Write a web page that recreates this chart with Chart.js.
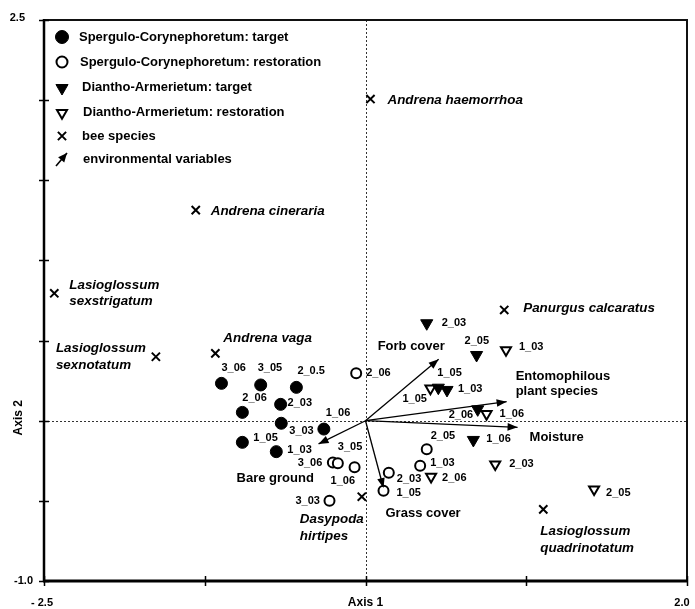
<!DOCTYPE html>
<html>
<head>
<meta charset="utf-8">
<script src="https://cdn.jsdelivr.net/npm/chart.js@4/dist/chart.umd.min.js"></script>
<style>
  html, body { margin: 0; padding: 0; background: #fff; }
  #wrap { width: 695px; height: 609px; }
</style>
</head>
<body>
<div id="wrap"><canvas id="ord" width="695" height="609"></canvas></div>
<script>
// ---- Ordination scores (Axis 1, Axis 2) ----
// Spergulo-Corynephoretum: target sites
const sgTargetSites = ['3_06', '3_05', '2_0.5', '2_06', '2_03', '3_03', '1_06', '1_05', '1_03'];
const sgTargetAxis1 = [-0.896, -0.652, -0.430, -0.766, -0.528, -0.524, -0.259, -0.766, -0.555];
const sgTargetAxis2 = [0.233, 0.223, 0.208, 0.052, 0.102, -0.016, -0.052, -0.135, -0.193];

// Spergulo-Corynephoretum: restoration sites
const sgRestSites = ['2_06', '3_06', '3_05', '1_06', '3_03', '2_05', '1_03', '2_03', '1_05'];
const sgRestAxis1 = [-0.058, -0.203, -0.172, -0.068, -0.224, 0.381, 0.340, 0.145, 0.112];
const sgRestAxis2 = [0.296, -0.260, -0.266, -0.291, -0.499, -0.178, -0.281, -0.324, -0.437];

// Diantho-Armerietum: target sites
const daTargetSites = ['2_03', '2_05', '1_05', '1_03', '2_06', '1_06'];
const daTargetAxis1 = [0.381, 0.691, 0.453, 0.507, 0.698, 0.671];
const daTargetAxis2 = [0.608, 0.410, 0.206, 0.192, 0.071, -0.120];

// Diantho-Armerietum: restoration sites
const daRestSites = ['1_03', '1_05', '1_06', '2_03', '2_06', '2_05'];
const daRestAxis1 = [0.874, 0.404, 0.753, 0.807, 0.408, 1.422];
const daRestAxis2 = [0.441, 0.202, 0.042, -0.272, -0.349, -0.428];

// Bee species
const beeNames = [
  ['Andrena haemorrhoa'], ['Andrena cineraria'], ['Lasioglossum', 'sexstrigatum'],
  ['Lasioglossum', 'sexnotatum'], ['Andrena vaga'], ['Panurgus calcaratus'],
  ['Dasypoda', 'hirtipes'], ['Lasioglossum', 'quadrinotatum']
];
const beeAxis1 = [0.031, -1.056, -1.936, -1.304, -0.934, 0.863, -0.023, 1.106];
const beeAxis2 = [2.007, 1.314, 0.795, 0.399, 0.420, 0.691, -0.474, -0.553];

// Environmental variables (arrow tips)
const envNames = [['Forb cover'], ['Entomophilous', 'plant species'], ['Moisture'], ['Grass cover'], ['Bare ground']];
const envAxis1 = [0.455, 0.878, 0.946, 0.112, -0.292];
const envAxis2 = [0.383, 0.119, -0.041, -0.420, -0.145];

// Axis ticks and their printed labels
const xTickValues = [-2, -1, 0, 1, 2];
const yTickValues = [-1.0, -0.5, 0, 0.5, 1.0, 1.5, 2.0, 2.5];
const xEndLabels = ['- 2.5', '2.0'];
const yEndLabels = ['2.5', '-1.0'];
const xAxisTitle = 'Axis 1';
const yAxisTitle = 'Axis 2';

// Legend entries
const legendTexts = [
  'Spergulo-Corynephoretum: target',
  'Spergulo-Corynephoretum: restoration',
  'Diantho-Armerietum: target',
  'Diantho-Armerietum: restoration',
  'bee species',
  'environmental variables'
];

// ---- Label placement (pixel offsets from the marker, left edge / middle) ----
const sgTargetLabelPos = [[0, -15], [-3, -17], [1, -16], [0, -14], [7, -1], [8, 8], [2, -16], [11, -4], [11, -2]];
const sgRestLabelPos = [[10, 0], [-35, 1], [0, -16], [-24, 14], [-34, 0], [4, -13], [10, -3], [8, 6], [13, 2]];
const daTargetLabelPos = [[15, 0], [-12, -14], [-1, -15], [11, -1], [-29, 6], [13, -1]];
const daRestLabelPos = [[13, -3], [-28, 11], [13, 0], [14, 0], [11, 1], [12, 4]];
const beeLabelPos = [[17, 1], [15, 1], [15, -8], [-100, -8], [8, -15], [19, -2], [-62, 23], [-3, 22]];
const envLabelPos = [[-61, -13], [9, -25], [12, 10], [2, 25], [-82, 34]];

const FONT = '"Liberation Sans", Arial, Helvetica, sans-serif';
const INK = '#000';

function pts(xs, ys) { return xs.map((x, i) => ({ x: x, y: ys[i] })); }

const siteSets = [
  { label: legendTexts[0], data: pts(sgTargetAxis1, sgTargetAxis2), names: sgTargetSites, pos: sgTargetLabelPos,
    pointStyle: 'circle', pointRadius: 6, pointBorderWidth: 1, pointRotation: 0,
    pointBackgroundColor: INK, pointBorderColor: INK },
  { label: legendTexts[1], data: pts(sgRestAxis1, sgRestAxis2), names: sgRestSites, pos: sgRestLabelPos,
    pointStyle: 'circle', pointRadius: 5, pointBorderWidth: 2, pointRotation: 0,
    pointBackgroundColor: '#fff', pointBorderColor: INK },
  { label: legendTexts[2], data: pts(daTargetAxis1, daTargetAxis2), names: daTargetSites, pos: daTargetLabelPos,
    pointStyle: 'triangle', pointRadius: 7, pointBorderWidth: 1, pointRotation: 180,
    pointBackgroundColor: INK, pointBorderColor: INK },
  { label: legendTexts[3], data: pts(daRestAxis1, daRestAxis2), names: daRestSites, pos: daRestLabelPos,
    pointStyle: 'triangle', pointRadius: 5.8, pointBorderWidth: 2, pointRotation: 180,
    pointBackgroundColor: '#fff', pointBorderColor: INK }
];

const beeSet = {
  label: legendTexts[4], data: pts(beeAxis1, beeAxis2), names: beeNames, pos: beeLabelPos, italic: true,
  pointStyle: 'crossRot', pointRadius: 5.8, pointBorderWidth: 2, pointRotation: 0,
  pointBackgroundColor: INK, pointBorderColor: INK
};

const envSets = envNames.map((n, i) => ({
  label: n.join(' '), env: true, names: [n], pos: [envLabelPos[i]],
  data: [{ x: 0, y: 0 }, { x: envAxis1[i], y: envAxis2[i] }],
  showLine: true, borderColor: INK, borderWidth: 1.3, pointRadius: 0, pointHoverRadius: 0
}));

const datasets = [...siteSets, beeSet, ...envSets];

function drawArrowHead(ctx, x0, y0, x1, y1, len, half) {
  const a = Math.atan2(y1 - y0, x1 - x0);
  const c = Math.cos(a), s = Math.sin(a);
  ctx.beginPath();
  ctx.moveTo(x1, y1);
  ctx.lineTo(x1 - len * c + half * s, y1 - len * s - half * c);
  ctx.lineTo(x1 - len * c - half * s, y1 - len * s + half * c);
  ctx.closePath();
  ctx.fill();
}

const frame = {
  id: 'frame',
  beforeDraw(chart) {
    const { ctx, canvas } = chart;
    ctx.save();
    ctx.fillStyle = '#fff';
    ctx.fillRect(0, 0, canvas.width, canvas.height);
    ctx.restore();
  },
  beforeDatasetsDraw(chart) {
    const { ctx, chartArea: a, scales: { x, y } } = chart;
    ctx.save();
    // zero lines
    ctx.strokeStyle = '#333';
    ctx.lineWidth = 1;
    ctx.setLineDash([2, 2]);
    const x0 = Math.round(x.getPixelForValue(0)) + 0.5;
    const y0 = Math.round(y.getPixelForValue(0)) + 0.5;
    ctx.beginPath();
    ctx.moveTo(x0, a.top); ctx.lineTo(x0, a.bottom);
    ctx.moveTo(a.left, y0); ctx.lineTo(a.right, y0);
    ctx.stroke();
    ctx.setLineDash([]);

    // frame: top and right
    ctx.strokeStyle = '#111';
    ctx.lineWidth = 2;
    ctx.beginPath();
    ctx.moveTo(a.left, a.top); ctx.lineTo(a.right, a.top); ctx.lineTo(a.right, a.bottom);
    ctx.stroke();
    // axes
    ctx.strokeStyle = INK;
    ctx.lineWidth = 2.5;
    ctx.beginPath();
    ctx.moveTo(a.left, a.top - 1); ctx.lineTo(a.left, a.bottom + 1);
    ctx.stroke();
    ctx.lineWidth = 3;
    ctx.beginPath();
    ctx.moveTo(a.left - 1, a.bottom); ctx.lineTo(a.right + 1, a.bottom);
    ctx.stroke();
    // crossing ticks
    ctx.lineWidth = 1.5;
    ctx.beginPath();
    yTickValues.forEach(v => {
      const py = Math.round(y.getPixelForValue(v)) + 0.5;
      ctx.moveTo(a.left - 5, py); ctx.lineTo(a.left + 5, py);
    });
    xTickValues.forEach(v => {
      const p = Math.round(x.getPixelForValue(v)) + 0.5;
      ctx.moveTo(p, a.bottom - 5); ctx.lineTo(p, a.bottom + 5);
    });
    ctx.stroke();

    // tick labels and axis titles
    ctx.fillStyle = INK;
    ctx.font = 'bold 11px ' + FONT;
    ctx.textBaseline = 'middle';
    ctx.textAlign = 'right';
    ctx.fillText(yEndLabels[0], a.left - 19, y.getPixelForValue(2.5) - 2);
    ctx.fillText(yEndLabels[1], a.left - 11, y.getPixelForValue(-1.0));
    ctx.textAlign = 'center';
    ctx.fillText(xEndLabels[0], x.getPixelForValue(-2) - 2, 603);
    ctx.fillText(xEndLabels[1], x.getPixelForValue(2) - 5, 603);
    ctx.font = 'bold 12px ' + FONT;
    ctx.fillText(xAxisTitle, x.getPixelForValue(0), 603);
    ctx.save();
    ctx.translate(19, y.getPixelForValue(0) - 3);
    ctx.rotate(-Math.PI / 2);
    ctx.fillText(yAxisTitle, 0, 0);
    ctx.restore();
    ctx.restore();
  },
  afterDatasetsDraw(chart) {
    const { ctx } = chart;
    ctx.save();
    ctx.fillStyle = INK;
    ctx.textAlign = 'left';
    ctx.textBaseline = 'middle';
    chart.data.datasets.forEach((ds, i) => {
      const meta = chart.getDatasetMeta(i);
      if (ds.env) {
        const p0 = meta.data[0], p1 = meta.data[1];
        drawArrowHead(ctx, p0.x, p0.y, p1.x, p1.y, 10, 3.8);
        ctx.font = 'bold 13px ' + FONT;
        ds.names[0].forEach((line, k) => {
          ctx.fillText(line, p1.x + ds.pos[0][0], p1.y + ds.pos[0][1] + k * 15);
        });
        return;
      }
      meta.data.forEach((el, j) => {
        const name = ds.names[j];
        const [dx, dy] = ds.pos[j];
        if (ds.italic) {
          ctx.font = 'italic bold 13.4px ' + FONT;
          name.forEach((line, k) => ctx.fillText(line, el.x + dx, el.y + dy + k * 16.5));
        } else {
          ctx.font = 'bold 11px ' + FONT;
          ctx.fillText(name, el.x + dx, el.y + dy);
        }
      });
    });

    // legend
    const rowsY = [37, 62, 87, 112, 136, 159];
    const textX = [79, 80, 82, 83, 82, 83];
    const markerX = 62;
    ctx.font = 'bold 13px ' + FONT;
    [...siteSets, beeSet].forEach((ds, k) => {
      ctx.save();
      ctx.fillStyle = ds.pointBackgroundColor;
      ctx.strokeStyle = ds.pointBorderColor;
      ctx.lineWidth = ds.pointBorderWidth;
      Chart.helpers.drawPoint(ctx, {
        pointStyle: ds.pointStyle, rotation: ds.pointRotation,
        radius: ds.pointRadius + (ds.pointStyle === 'circle' ? 0.5 : 0), borderWidth: ds.pointBorderWidth
      }, markerX, rowsY[k] + (ds.pointStyle === 'triangle' ? 1 : 0));
      ctx.restore();
      ctx.fillStyle = INK;
      ctx.fillText(legendTexts[k], textX[k], rowsY[k]);
    });
    // arrow symbol
    ctx.strokeStyle = INK;
    ctx.lineWidth = 1.6;
    ctx.beginPath();
    ctx.moveTo(56, 166); ctx.lineTo(67, 153);
    ctx.stroke();
    drawArrowHead(ctx, 56, 166, 67, 153, 9, 4);
    ctx.fillText(legendTexts[5], textX[5], rowsY[5]);
    ctx.restore();
  }
};

new Chart(document.getElementById('ord'), {
  type: 'scatter',
  data: { datasets: datasets },
  options: {
    responsive: false,
    devicePixelRatio: 1,
    animation: false,
    events: [],
    layout: { padding: { left: 44, top: 20, right: 7, bottom: 28 } },
    scales: {
      x: { type: 'linear', min: -2, max: 2, display: false },
      y: { type: 'linear', min: -1, max: 2.5, display: false }
    },
    plugins: { legend: { display: false }, tooltip: { enabled: false } }
  },
  plugins: [frame]
});
</script>
</body>
</html>
